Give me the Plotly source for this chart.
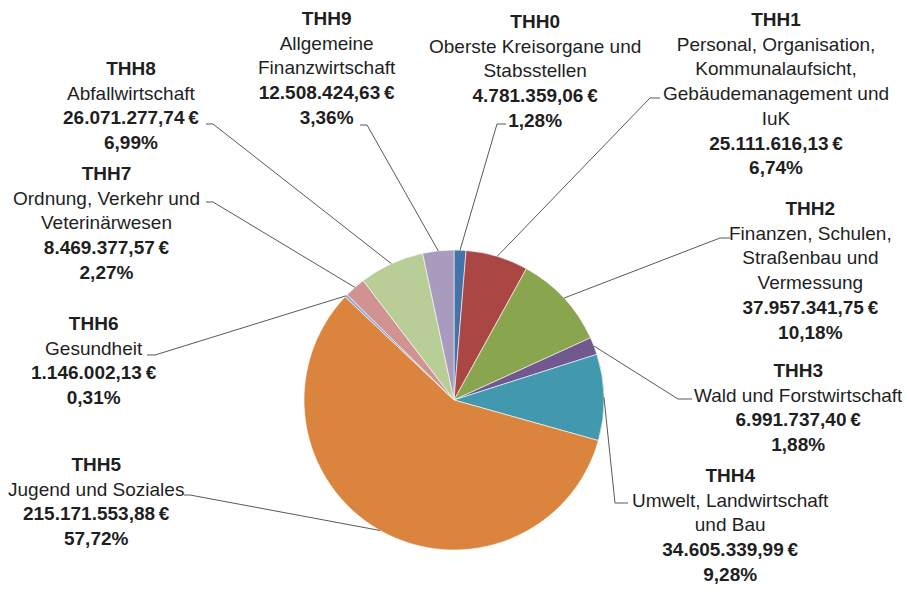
import math
import plotly.graph_objects as go

# ---------------- data ----------------
codes = ["THH0", "THH1", "THH2", "THH3", "THH4", "THH5", "THH6", "THH7", "THH8", "THH9"]
names = [
    "Oberste Kreisorgane und\nStabsstellen",
    "Personal, Organisation,\nKommunalaufsicht,\nGebäudemanagement und\nIuK",
    "Finanzen, Schulen,\nStraßenbau und\nVermessung",
    "Wald und Forstwirtschaft",
    "Umwelt, Landwirtschaft\nund Bau",
    "Jugend und Soziales",
    "Gesundheit",
    "Ordnung, Verkehr und\nVeterinärwesen",
    "Abfallwirtschaft",
    "Allgemeine\nFinanzwirtschaft",
]
values = [4781359.06, 25111616.13, 37957341.75, 6991737.40, 34605339.99,
          215171553.88, 1146002.13, 8469377.57, 26071277.74, 12508424.63]
colors = ["#4572A7", "#AA4643", "#89A54E", "#71588F", "#4198AF",
          "#DB843D", "#93A9CF", "#D19392", "#B9CD96", "#A99BBD"]

# ---------------- layout constants (pixels of the 910x595 window) ----------------
OFF = 8                      # default page body margin
W, H = 910 - 2 * OFF, 595 - 2 * OFF
PIE_CX, PIE_CY, PIE_R = 454, 400, 150
FONT = "Liberation Sans"
FSIZE = 19
TXT = "#1f1f1f"
LINE = "#595959"

# label block centre (x, y) and leader elbow/end points in window pixels
label_pos = [(535, 70.5), (776, 93.5), (810, 270), (798, 407.5), (730, 525),
             (95.5, 501.5), (94, 360.5), (106, 223), (131, 105.5), (327, 68)]
leader_pts = [
    [(497, 124), (506, 124)],
    [(650, 98), (660, 98)],
    [(720, 238), (730, 238)],
    [(678, 399), (692, 399)],
    [(615, 503), (628, 503)],
    [(190, 495), (184, 495)],
    [(155, 355), (147, 355)],
    [(213, 202), (206, 202)],
    [(213, 124), (206, 124)],
    [(367, 125), (360, 125)],
]


def px(x):
    return (x - OFF) / W


def py(y):
    return 1 - (y - OFF) / H


def de_money(v):
    s = f"{v:,.2f}".replace(",", "X").replace(".", ",").replace("X", ".")
    return s + "\u202f€"


def de_pct(p):
    return f"{p:.2f}".replace(".", ",") + "%"


total = sum(values)

fig = go.Figure()
fig.add_trace(go.Pie(
    values=values,
    labels=codes,
    sort=False,
    direction="clockwise",
    rotation=0,
    textinfo="none",
    marker=dict(colors=colors, line=dict(color="white", width=0.6)),
    domain=dict(x=[px(PIE_CX - PIE_R), px(PIE_CX + PIE_R)],
                y=[py(PIE_CY + PIE_R), py(PIE_CY - PIE_R)]),
    showlegend=False,
))

annotations = []
shapes = []
cum = 0.0
for i, (code, name, v) in enumerate(zip(codes, names, values)):
    frac = v / total
    mid = (cum + frac / 2) * 2 * math.pi
    cum += frac
    ex = PIE_CX + PIE_R * math.sin(mid)
    ey = PIE_CY - PIE_R * math.cos(mid)
    pts = [(ex, ey)] + leader_pts[i]
    path = "M " + " L ".join(f"{px(x):.5f},{py(y):.5f}" for x, y in pts)
    shapes.append(dict(type="path", path=path, xref="paper", yref="paper",
                       line=dict(color=LINE, width=1)))
    text = ("<b>" + code + "</b><br>" + name.replace("\n", "<br>") +
            "<br><b>" + de_money(v) + "</b><br><b>" + de_pct(frac * 100) + "</b>")
    lx, ly = label_pos[i]
    annotations.append(dict(text=text, x=px(lx), y=py(ly), xref="paper", yref="paper",
                            xanchor="center", yanchor="middle", showarrow=False,
                            borderpad=0, align="center",
                            font=dict(family=FONT, size=FSIZE, color=TXT)))

fig.update_layout(
    width=W, height=H,
    margin=dict(l=0, r=0, t=0, b=0),
    paper_bgcolor="white",
    plot_bgcolor="white",
    annotations=annotations,
    shapes=shapes,
    font=dict(family=FONT, size=FSIZE, color=TXT),
)

fig.write_html("out.html")
